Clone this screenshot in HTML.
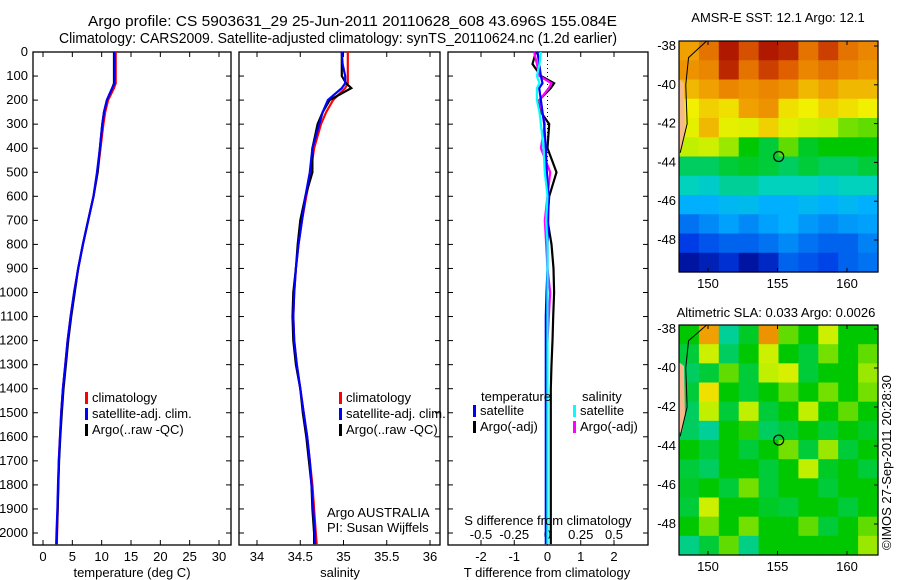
<!DOCTYPE html>
<html><head><meta charset="utf-8"><style>
body{margin:0;background:#fff;}
svg{display:block;font-family:"Liberation Sans",sans-serif;}
text{font-size:13px;fill:#000;}
</style></head><body>
<svg id="c" width="900" height="580" xmlns="http://www.w3.org/2000/svg">
<text x="88" y="26" style="font-size:14.5px" textLength="529" lengthAdjust="spacingAndGlyphs">Argo profile: CS 5903631_29 25-Jun-2011 20110628_608 43.696S 155.084E</text>
<text x="59" y="43" style="font-size:14.5px" textLength="558" lengthAdjust="spacingAndGlyphs">Climatology: CARS2009. Satellite-adjusted climatology: synTS_20110624.nc (1.2d earlier)</text>
<text x="778" y="22" text-anchor="middle">AMSR-E SST: 12.1 Argo: 12.1</text>
<text x="776" y="317" text-anchor="middle">Altimetric SLA: 0.033 Argo: 0.0026</text>
<text transform="translate(891,550) rotate(-90)">©IMOS 27-Sep-2011 20:28:30</text>
<g id="g"></g>
</svg>
<script>
// ---- data ----
const depths=[0,50,100,130,150,200,250,300,400,500,600,700,800,900,1000,1100,1200,1300,1400,1500,1600,1700,1800,1900,2000,2046];
const tempClim=[12.4,12.4,12.4,12.4,12.1,11.1,10.6,10.3,9.8,9.3,8.6,7.7,6.8,6.0,5.3,4.7,4.2,3.8,3.4,3.1,2.9,2.7,2.6,2.5,2.4,2.35];
const tempSat=[12.2,12.2,12.2,12.2,11.8,10.9,10.4,10.1,9.7,9.2,8.6,7.7,6.8,6.0,5.3,4.7,4.2,3.8,3.4,3.1,2.9,2.7,2.55,2.45,2.3,2.25];
const tempArgo=[12.1,12.1,12.1,12.1,11.8,10.9,10.4,10.1,9.7,9.3,8.6,7.7,6.8,6.0,5.4,4.8,4.3,3.9,3.5,3.2,2.95,2.75,2.6,2.5,2.35,2.3];
const salClim=[35.05,35.05,35.05,35.05,35.02,34.88,34.8,34.74,34.66,34.62,34.57,34.52,34.48,34.45,34.43,34.42,34.43,34.46,34.5,34.54,34.58,34.61,34.64,34.66,34.68,34.69];
const salSat=[34.98,34.99,35.02,35.02,34.98,34.82,34.76,34.72,34.64,34.61,34.56,34.52,34.48,34.45,34.43,34.42,34.43,34.46,34.5,34.54,34.58,34.61,34.63,34.65,34.67,34.67];
const salArgo=[34.98,34.98,34.98,35.03,35.09,34.84,34.76,34.7,34.64,34.64,34.56,34.5,34.47,34.45,34.42,34.41,34.42,34.45,34.5,34.53,34.57,34.6,34.63,34.64,34.66,34.66];
const dTsat=[-0.3,-0.25,-0.2,-0.15,-0.25,-0.2,-0.15,-0.1,-0.05,-0.02,0.03,0.02,0,0,-0.03,-0.05,-0.05,-0.05,-0.05,-0.05,-0.05,-0.05,-0.05,-0.05,-0.05,-0.05];
const dTargo=[-0.35,-0.45,-0.2,0.2,0.1,-0.25,-0.2,0.05,0,0.27,0.05,0,0.12,0.18,0.2,0.17,0.15,0.12,0.1,0.1,0.1,0.1,0.1,0.1,0.1,0.1];
const dSsat=[-0.05,-0.06,-0.08,-0.06,-0.08,-0.08,-0.06,-0.05,-0.03,-0.02,0,-0.01,0,0,0,0,0,0,0,0,0,0,0,0,0,0];
const dSargo=[-0.1,-0.08,-0.06,0.03,0.01,-0.06,-0.04,-0.02,-0.05,0.02,0,-0.02,-0.01,0,0.02,0.01,0,-0.01,-0.01,-0.01,-0.01,-0.01,-0.01,-0.01,-0.01,-0.01];
const depthTicks=[0,100,200,300,400,500,600,700,800,900,1000,1100,1200,1300,1400,1500,1600,1700,1800,1900,2000];
const tempTicks=[0,5,10,15,20,25,30];
const salTicks=[34,34.5,35,35.5,36];
const dTTicks=[-2,-1,0,1,2];
const dSTicks=[-0.5,-0.25,0,0.25,0.5];
const sstGrid=[
[0.78,0.85,0.97,0.9,0.97,0.95,0.85,0.92,0.85,0.82],
[0.8,0.82,0.95,0.85,0.92,0.88,0.82,0.85,0.82,0.8],
[0.75,0.78,0.82,0.8,0.82,0.8,0.75,0.78,0.75,0.75],
[0.68,0.72,0.7,0.78,0.8,0.7,0.68,0.72,0.7,0.68],
[0.66,0.75,0.66,0.65,0.72,0.65,0.62,0.6,0.56,0.55],
[0.6,0.62,0.58,0.5,0.47,0.55,0.48,0.5,0.5,0.5],
[0.45,0.45,0.47,0.48,0.47,0.45,0.47,0.45,0.45,0.47],
[0.4,0.38,0.42,0.42,0.4,0.4,0.4,0.38,0.4,0.4],
[0.3,0.3,0.32,0.33,0.3,0.3,0.32,0.3,0.32,0.3],
[0.22,0.25,0.28,0.25,0.28,0.3,0.27,0.25,0.27,0.28],
[0.15,0.18,0.2,0.2,0.22,0.25,0.22,0.2,0.2,0.24],
[0.05,0.08,0.12,0.05,0.1,0.2,0.18,0.16,0.2,0.22]];
const slaGrid=[
[0.5,0.78,0.42,0.48,0.8,0.55,0.5,0.62,0.5,0.5],
[0.47,0.62,0.45,0.5,0.62,0.5,0.47,0.56,0.5,0.55],
[0.45,0.47,0.55,0.47,0.6,0.64,0.47,0.5,0.5,0.58],
[0.47,0.7,0.5,0.47,0.5,0.55,0.5,0.56,0.5,0.56],
[0.45,0.6,0.47,0.6,0.47,0.5,0.6,0.5,0.55,0.5],
[0.45,0.42,0.5,0.52,0.45,0.47,0.5,0.47,0.5,0.48],
[0.5,0.47,0.5,0.47,0.5,0.56,0.47,0.58,0.47,0.5],
[0.47,0.45,0.5,0.5,0.47,0.5,0.6,0.48,0.5,0.47],
[0.48,0.5,0.47,0.56,0.47,0.5,0.5,0.47,0.5,0.5],
[0.47,0.62,0.5,0.5,0.48,0.47,0.5,0.5,0.47,0.5],
[0.5,0.56,0.5,0.56,0.5,0.5,0.55,0.47,0.5,0.55],
[0.43,0.47,0.55,0.43,0.5,0.5,0.5,0.5,0.5,0.58]];
const lonTicks=[150,155,160];
const latTicks=[-38,-40,-42,-44,-46,-48];
const argoLon=155.084, argoLat=-43.696;

// ---- drawing ----
const NS='http://www.w3.org/2000/svg';
const G=document.getElementById('g');
function el(t,a,p){const e=document.createElementNS(NS,t);for(const k in a)e.setAttribute(k,a[k]);(p||G).appendChild(e);return e;}
const Y=d=>52+d*0.2405;
function lin(d0,d1,r0,r1){return v=>r0+(v-d0)*(r1-r0)/(d1-d0);}
const XT=lin(0,30,43,219), XS=lin(34,36,257,430), XD=lin(0,1,547.5,580.75), XDS=lin(0,0.25,547.5,580.75);

function frame(x0,x1,name){
  const r=el('rect',{x:x0,y:52,width:x1-x0,height:493,fill:'none',stroke:'#000','stroke-width':1.3});
  
  
  depthTicks.forEach(d=>{el('line',{x1:x0,x2:x0+5,y1:Y(d),y2:Y(d),stroke:'#000'});el('line',{x1:x1,x2:x1-5,y1:Y(d),y2:Y(d),stroke:'#000'});});
}
function line(xs,X,col,w,name){
  const pts=depths.map((d,i)=>X(xs[i]).toFixed(1)+','+Y(d).toFixed(1)).join(' ');
  const p=el('polyline',{points:pts,fill:'none',stroke:col,'stroke-width':w});
  
  
}
function xt(ticks,X,y,fmt,name){ticks.forEach(t=>{
  el('line',{x1:X(t),x2:X(t),y1:545,y2:540,stroke:'#000'});el('line',{x1:X(t),x2:X(t),y1:52,y2:57,stroke:'#000'});
  const e=el('text',{x:X(t),y:y,'text-anchor':'middle'});e.textContent=fmt(t);
  
  });}
depthTicks.forEach(d=>{const e=el('text',{x:28,y:Y(d)+4,'text-anchor':'end'});e.textContent=d;
  
  });
frame(33,231,'temperature-panel');frame(239,440,'salinity-panel');frame(448,648,'difference-panel');
xt(tempTicks,XT,561,t=>t,'temp-tick-label');
xt(salTicks,XS,561,t=>t,'salinity-tick-label');
xt(dTTicks,XD,561,t=>t,'dT-tick-label');
dSTicks.forEach(t=>{const e=el('text',{x:XDS(t),y:539,'text-anchor':'middle'});e.textContent=String(t);
  
  });
el('line',{x1:547.5,x2:547.5,y1:52,y2:545,stroke:'#000','stroke-dasharray':'1,3'});
line(tempClim,XT,'#f00',2.2,'temp-climatology-line');line(tempArgo,XT,'#000',2.2,'temp-argo-line');line(tempSat,XT,'#00f',2.2,'temp-satellite-line');
line(salClim,XS,'#f00',2.2,'sal-climatology-line');line(salArgo,XS,'#000',2.2,'sal-argo-line');line(salSat,XS,'#00f',2.2,'sal-satellite-line');
line(dTargo,XD,'#000',2.2,'dT-argo-line');line(dSargo,XDS,'#f0f',2.2,'dS-argo-line');line(dTsat,XD,'#00f',2.2,'dT-satellite-line');line(dSsat,XDS,'#0ff',2.2,'dS-satellite-line');

function txt(x,y,s,name,anchor){const e=el('text',{x:x,y:y,'text-anchor':anchor||'start'});e.textContent=s;
  
  return e;}
txt(132,577,'temperature (deg C)','temp-axis-title','middle');
txt(340,577,'salinity','salinity-axis-title','middle');
txt(547,577,'T difference from climatology','dT-axis-title','middle');
txt(548,525,'S difference from climatology','dS-axis-title','middle');
txt(327,517,'Argo AUSTRALIA','institution-label');txt(327,532,'PI: Susan Wijffels','pi-label');
function leg(x,y,items,name){items.forEach((it,i)=>{
  el('rect',{x:x,y:y+i*16-10,width:3,height:12,fill:it[0]});
  txt(x+7,y+i*16,it[1],name);});}
leg(85,402,[['#f00','climatology'],['#00f','satellite-adj. clim.'],['#000','Argo(..raw -QC)']],'temp-legend-entry');
leg(339,402,[['#f00','climatology'],['#00f','satellite-adj. clim.'],['#000','Argo(..raw -QC)']],'sal-legend-entry');
txt(481,401,'temperature','dT-legend-header');txt(582,401,'salinity','dS-legend-header');
leg(473,415,[['#00f','satellite'],['#000','Argo(-adj)']],'dT-legend-entry');
leg(573,415,[['#0ff','satellite'],['#f0f','Argo(-adj)']],'dS-legend-entry');

const stops=[[0,[0,0,128]],[0.15,[0,60,230]],[0.3,[0,176,255]],[0.4,[0,210,190]],[0.5,[0,200,0]],[0.6,[192,240,0]],[0.68,[240,240,0]],[0.78,[240,160,0]],[0.88,[224,96,0]],[1,[160,0,0]]];
function cmap(v){v=Math.max(0,Math.min(1,v));
  for(let i=1;i<stops.length;i++){if(v<=stops[i][0]){const a=stops[i-1],b=stops[i],f=(v-a[0])/(b[0]-a[0]);
    return 'rgb('+a[1].map((c,k)=>Math.round(c+(b[1][k]-c)*f)).join(',')+')';}}
  return 'rgb(160,0,0)';}
function map(grid,x0,y0,w,h,lat38y,lat48y,name){
  const rows=grid.length,cols=grid[0].length,cw=w/cols,ch=h/rows;
  grid.forEach((row,i)=>row.forEach((v,j)=>{
    const c=el('rect',{x:x0+j*cw,y:y0+i*ch,width:cw+0.6,height:ch+0.6,fill:cmap(v)});
    
    }));
  const LX=lin(150,160,708,847),LY=lin(-38,-48,lat38y,lat48y);
  el('polygon',{points:`${x0},${LY(-39.7)} ${x0+5},${LY(-39.9)} ${x0+6},${LY(-42.5)} ${x0+3},${LY(-43.3)} ${x0},${LY(-43.3)}`,fill:'#f5b98c'});
  el('polyline',{points:`${LX(149.9)},${y0} ${LX(148.6)},${LY(-38.6)} ${LX(148.4)},${LY(-40)} ${LX(148.5)},${LY(-42)} ${LX(148.0)},${LY(-43.5)}`,fill:'none',stroke:'#000'});
  const f=el('rect',{x:x0,y:y0,width:w,height:h,fill:'none',stroke:'#000','stroke-width':1.2});
  
  
  lonTicks.forEach(l=>{el('line',{x1:LX(l),x2:LX(l),y1:y0+h,y2:y0+h-4,stroke:'#000'});el('line',{x1:LX(l),x2:LX(l),y1:y0,y2:y0+4,stroke:'#000'});
    txt(LX(l),y0+h+16,l,name+'-lon-label','middle');});
  latTicks.forEach(l=>{el('line',{x1:x0+w,x2:x0+w-4,y1:LY(l),y2:LY(l),stroke:'#000'});
    txt(x0-3,LY(l)+4,l,name+'-lat-label','end');});
  const m=el('circle',{cx:LX(argoLon),cy:LY(argoLat),r:5,fill:'none',stroke:'#000','stroke-width':1.2});
  
  
}
map(sstGrid,679,41,199,231,46,240,'sst-map');
map(slaGrid,679,325,199,230,329,524,'sla-map');
</script>
</body></html>
